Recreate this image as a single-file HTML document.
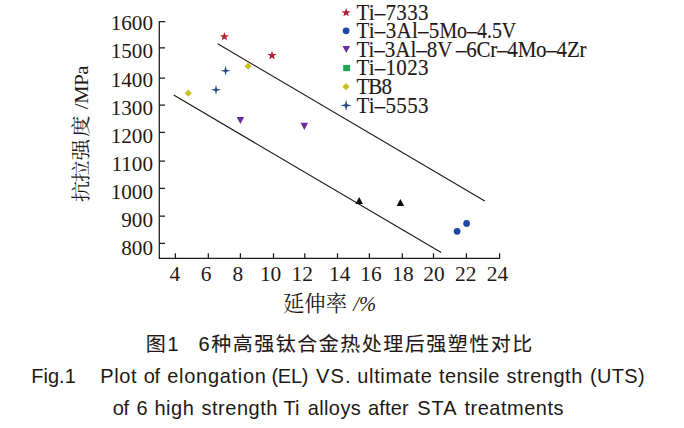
<!DOCTYPE html>
<html lang="zh">
<head>
<meta charset="utf-8">
<title>Fig.1</title>
<style>
html,body{margin:0;padding:0;background:#fff;}
body{width:684px;height:428px;overflow:hidden;}
svg{display:block;}
.ser{font-family:"Liberation Serif","Noto Serif CJK SC",serif;fill:#231815;}
.san{font-family:"Liberation Sans","Noto Sans CJK SC",sans-serif;fill:#231815;}
.ax{stroke:#231815;stroke-width:1.25;fill:none;stroke-linecap:butt;}
.ln{stroke:#231815;stroke-width:1.15;fill:none;}
</style>
</head>
<body>
<svg width="684" height="428" viewBox="0 0 684 428">
<rect width="684" height="428" fill="#fff"/>

<!-- axes -->
<g class="ax">
<path d="M165.2 21.6H159.3V258.3H499.6V253.2"/>
<path d="M159.3 47.9h5.7M159.3 78.2h5.7M159.3 105h5.7M159.3 132.4h5.7M159.3 161h5.7M159.3 188.3h5.7M159.3 216.2h5.7M159.3 243.4h5.7"/>
<path d="M175.4 258.3v-5.1M208.3 258.3v-5.1M240.4 258.3v-5.1M273.5 258.3v-5.1M304.8 258.3v-5.1M337.5 258.3v-5.1M369.4 258.3v-5.1M402.3 258.3v-5.1M433.5 258.3v-5.1M466.4 258.3v-5.1"/>
</g>

<!-- y tick labels -->
<g class="ser" font-size="21.2" text-anchor="end">
<text x="153" y="29.6">1600</text>
<text x="153" y="57.7">1500</text>
<text x="153" y="86.6">1400</text>
<text x="153" y="114.7">1300</text>
<text x="153" y="142.7">1200</text>
<text x="153" y="171">1100</text>
<text x="153" y="199">1000</text>
<text x="153" y="227">900</text>
<text x="153" y="254.6">800</text>
</g>

<!-- x tick labels -->
<g class="ser" font-size="21.4" text-anchor="middle">
<text x="174.8" y="280.8">4</text>
<text x="206" y="280.8">6</text>
<text x="237.8" y="280.8">8</text>
<text x="270.6" y="280.8">10</text>
<text x="302.3" y="280.8">12</text>
<text x="339.8" y="280.8">14</text>
<text x="371" y="280.8">16</text>
<text x="402.9" y="280.8">18</text>
<text x="433.9" y="280.8">20</text>
<text x="465.7" y="280.8">22</text>
<text x="497.4" y="280.8">24</text>
</g>

<!-- axis titles -->
<text class="ser" font-size="18.9" transform="translate(88.3 202.2) rotate(-90) scale(1.09 1)"><tspan font-size="19.7" x="0.00 18.62 38.35 59.91">抗拉强度</tspan> <tspan x="85.23" textLength="40.18">/MPa</tspan></text>
<text class="ser" font-size="20.5" y="310.7"><tspan font-size="21.4" x="282.9 304.3 325.7">延伸率</tspan> <tspan font-style="italic" x="353.2">/%</tspan></text>

<!-- trend lines -->
<path class="ln" d="M217.7 43.8L484.8 201.1"/>
<path class="ln" d="M173.7 95L441.2 252.6"/>

<!-- markers -->
<defs>
<path id="star" d="M0 -4.75L1.13 -1.5L4.5 -1.47L1.83 0.6L2.8 3.9L0 1.9L-2.8 3.9L-1.83 0.6L-4.5 -1.47L-1.13 -1.5Z"/>
<path id="plus" d="M0 -5.1L1 -1L5.1 0L1 1L0 5.1L-1 1L-5.1 0L-1 -1Z"/>
<path id="dia" d="M0 -3.65L3.55 0L0 3.65L-3.55 0Z"/>
<path id="tdn" d="M-3.8 -3.1L3.8 -3.1L0 4Z"/>
<path id="tup" d="M-3.75 3.1L3.75 3.1L0 -3.9Z"/>
</defs>
<g fill="#b5202e">
<use href="#star" x="224.4" y="36.7"/>
<use href="#star" x="272" y="55.5"/>
<use href="#star" x="346.1" y="12.7"/>
</g>
<g fill="#c9c01f">
<use href="#dia" x="248.1" y="66.2"/>
<use href="#dia" x="188.3" y="93.2"/>
<use href="#dia" x="346" y="86.7"/>
</g>
<g fill="#27497c">
<use href="#plus" x="225.6" y="70.7"/>
<use href="#plus" x="216" y="89.8"/>
<use href="#plus" transform="translate(346.1 105.4) scale(1.1)"/>
</g>
<g fill="#6a2c9a">
<use href="#tdn" x="240.4" y="120"/>
<use href="#tdn" x="304.3" y="125.9"/>
<use href="#tdn" x="346.3" y="49"/>
</g>
<g fill="#0d0b0b">
<use href="#tup" x="359.2" y="200.8"/>
<use href="#tup" x="400.4" y="202.8"/>
</g>
<g fill="#1e47a5">
<circle cx="457.1" cy="231.3" r="3.35"/>
<circle cx="466.6" cy="223.4" r="3.35"/>
<circle cx="346.1" cy="30.8" r="3.4"/>
</g>
<rect x="343.2" y="64.9" width="6.9" height="6.3" fill="#1fa357"/>

<!-- legend -->
<g class="ser" font-size="21" transform="scale(1 1.05)" stroke="#231815" stroke-width="0.12">
<text x="356.4" y="18.76" textLength="72">Ti–7333</text>
<text y="36.19"><tspan x="356.4" textLength="82.9">Ti–3Al–5</tspan><tspan x="439.4" textLength="76.8" lengthAdjust="spacingAndGlyphs">Mo–4.5V</tspan></text>
<text y="53.90"><tspan x="356.4">Ti–3Al–8V</tspan><tspan x="456" textLength="130.5">–6Cr–4Mo–4Zr</tspan></text>
<text x="356.4" y="71.90" textLength="72">Ti–1023</text>
<text x="356.4" y="89.43" textLength="35.6">TB8</text>
<text x="356.4" y="107.24" textLength="72">Ti–5553</text>
</g>

<!-- caption -->
<g class="san" font-size="20" transform="translate(0 350.9) scale(1 0.965)" stroke="#231815" stroke-width="0.1">
<text y="0"><tspan x="145.7" letter-spacing="1.9">图1</tspan>　<tspan x="198.6" textLength="333.7">6种高强钛合金热处理后强塑性对比</tspan></text>
</g>
<g class="san" font-size="20" transform="scale(1 1.03)">
<text y="372.04"><tspan x="31.2" letter-spacing="0.04">Fig.1</tspan> <tspan x="100.2" letter-spacing="0.63">Plot</tspan> <tspan x="143.8" letter-spacing="-0.30">of</tspan> <tspan x="167.3" letter-spacing="0.70">elongation</tspan> <tspan x="271.5" letter-spacing="-0.30">(EL)</tspan> <tspan x="316.0" letter-spacing="1.20">VS.</tspan> <tspan x="357.3" letter-spacing="0.64">ultimate</tspan> <tspan x="438.9" letter-spacing="0.44">tensile</tspan> <tspan x="506.5" letter-spacing="0.51">strength</tspan> <tspan x="589.9" letter-spacing="0.36">(UTS)</tspan></text>
<text y="403.20"><tspan x="112.8" letter-spacing="-0.30">of</tspan> <tspan x="136.6" letter-spacing="0.00">6</tspan> <tspan x="154.5" letter-spacing="0.50">high</tspan> <tspan x="201.4" letter-spacing="0.54">strength</tspan> <tspan x="283.6" letter-spacing="-0.07">Ti</tspan> <tspan x="307.7" letter-spacing="0.39">alloys</tspan> <tspan x="368.0" letter-spacing="0.16">after</tspan> <tspan x="417.2" letter-spacing="1.01">STA</tspan> <tspan x="464.5" letter-spacing="0.50">treatments</tspan></text>
</g>
</svg>
</body>
</html>
